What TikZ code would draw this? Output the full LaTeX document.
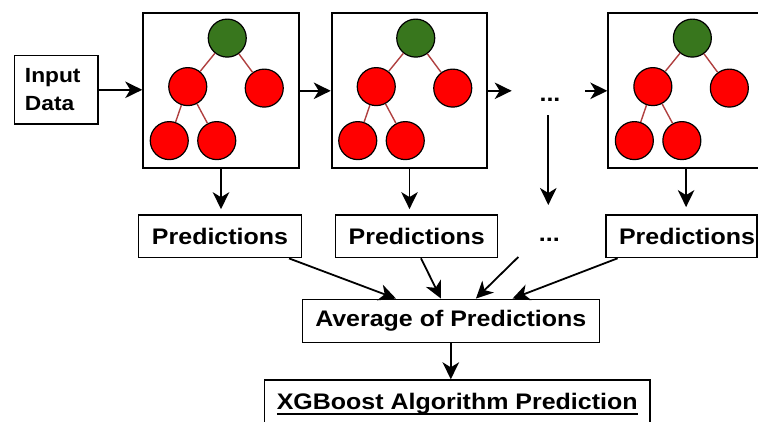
\documentclass[tikz,border=0pt]{standalone}
\usepackage{fontspec}
\setmainfont{Liberation Sans}[FakeStretch=1.11]
\usetikzlibrary{arrows.meta,calc}
\definecolor{treegreen}{RGB}{56,118,29}
\definecolor{treered}{RGB}{255,0,0}
\definecolor{edgered}{RGB}{176,64,64}
\newcommand\myul[1]{\setbox0\hbox{#1}\rlap{\rule[-5.5pt]{\wd0}{1.3pt}}\box0}
\begin{document}
\begin{tikzpicture}[x=1pt,y=-1pt,
  arr/.style={line width=1.8pt,-{Stealth[length=17pt,width=16.5pt,inset=5pt]}},
  treebox/.style={draw,line width=1.8pt,minimum width=155.7pt,minimum height=155pt,inner sep=0pt},
  txtbox/.style={draw,line width=1.5pt,inner sep=0pt,font=\bfseries\fontsize{22.5}{27}\selectfont},
  dotsnode/.style={inner sep=0pt,font=\bfseries\fontsize{22.5}{27}\selectfont},
  gnode/.style={circle,draw,line width=1.2pt,fill=treegreen,minimum size=38pt,inner sep=0pt},
  rnode/.style={circle,draw,line width=1.2pt,fill=treered,minimum size=38pt,inner sep=0pt},
  tedge/.style={draw=edgered,line width=1.4pt}
]
\path[use as bounding box] (0,0) rectangle (758,421);
\clip (0,0) rectangle (758,421);

% input
\node[draw,line width=1.5pt,minimum width=83.3pt,minimum height=68.3pt,inner xsep=10.3pt,inner ysep=0pt,
  text width=62.7pt,align=left,font=\bfseries\fontsize{20.5}{28.4}\selectfont] (input) at (56.3,89.8) {Input\\Data};

% tree boxes
\node[treebox] (box1) at (221,90.8) {};
\node[treebox] (box2) at (409.5,90.8) {};
\node[treebox] (box3) at (686.1,90.8) {};

\foreach \b in {1,2,3}{
  \node[gnode] (g\b) at ($(box\b.north west)+(85,25.7)$) {};
  \node[rnode] (l\b) at ($(box\b.north west)+(45.5,74.2)$) {};
  \node[rnode] (r\b) at ($(box\b.north west)+(122,75.7)$) {};
  \node[rnode] (bl\b) at ($(box\b.north west)+(27,128.2)$) {};
  \node[rnode] (bm\b) at ($(box\b.north west)+(74.5,128.2)$) {};
  \draw[tedge] (g\b) -- (l\b);
  \draw[tedge] (g\b) -- (r\b);
  \draw[tedge] (l\b) -- (bl\b);
  \draw[tedge] (l\b) -- (bm\b);
}

% dots
\node[dotsnode] (dots1) at (550,100) {...};
\node[dotsnode] (dots2) at (549.3,240) {...};
\coordinate (c1) at (511.7,90);
\coordinate (c2) at (585,90);
\coordinate (dtop) at (548.3,115);
\coordinate (dbot) at (548.3,205);
\coordinate (dstart) at (518.3,257);

% prediction boxes
\node[txtbox,minimum width=163.4pt,minimum height=42.7pt] (pred1) at (220,236.3) {Predictions};
\node[txtbox,minimum width=162pt,minimum height=42.7pt] (pred2) at (416.7,236.2) {Predictions};
\node[txtbox,minimum width=150.7pt,minimum height=42.7pt,inner xsep=1.7pt,text width=147.3pt,align=right] (pred3) at (681.4,236.2) {Predictions};

% average and final
\node[txtbox,minimum width=297pt,minimum height=43pt] (avg) at (450.8,320.8) {Average of Predictions};
\node[txtbox,anchor=north,minimum width=385.7pt,text height=29pt,text depth=24pt] (xg) at (457.2,379.3) {\myul{XGBoost Algorithm Prediction}};

% connectors
\draw[arr] (input.east) -- (input.east -| box1.west);
\draw[arr] (box1.east) -- (box2.west);
\draw[arr] (box2.east) -- (box2.east -| c1);
\draw[arr] (c2 |- box3.west) -- (box3.west);
\draw[arr] (dtop) -- (dbot);

\draw[arr] (box1.south) -- ($(box1.south |- pred1.north)+(0,-5)$);
\draw[arr] (box2.south) -- ($(box2.south |- pred2.north)+(0,-5)$);
\draw[arr] (box3.south) -- ($(box3.south |- pred3.north)+(0,-7)$);

\draw[arr] ($(pred1.south east)+(-13.4,0)$) -- ($(avg.north west)+(94.4,0)$);
\draw[arr] ($(pred2.south west)+(86,0)$) -- ($(avg.north west)+(139.4,0)$);
\draw[arr] (dstart) -- ($(avg.north west)+(174.4,0)$);
\draw[arr] ($(pred3.south west)+(12.3,0)$) -- ($(avg.north west)+(211,0)$);

\draw[arr] (avg.south) -- (avg.south |- xg.north);
\end{tikzpicture}
\end{document}
